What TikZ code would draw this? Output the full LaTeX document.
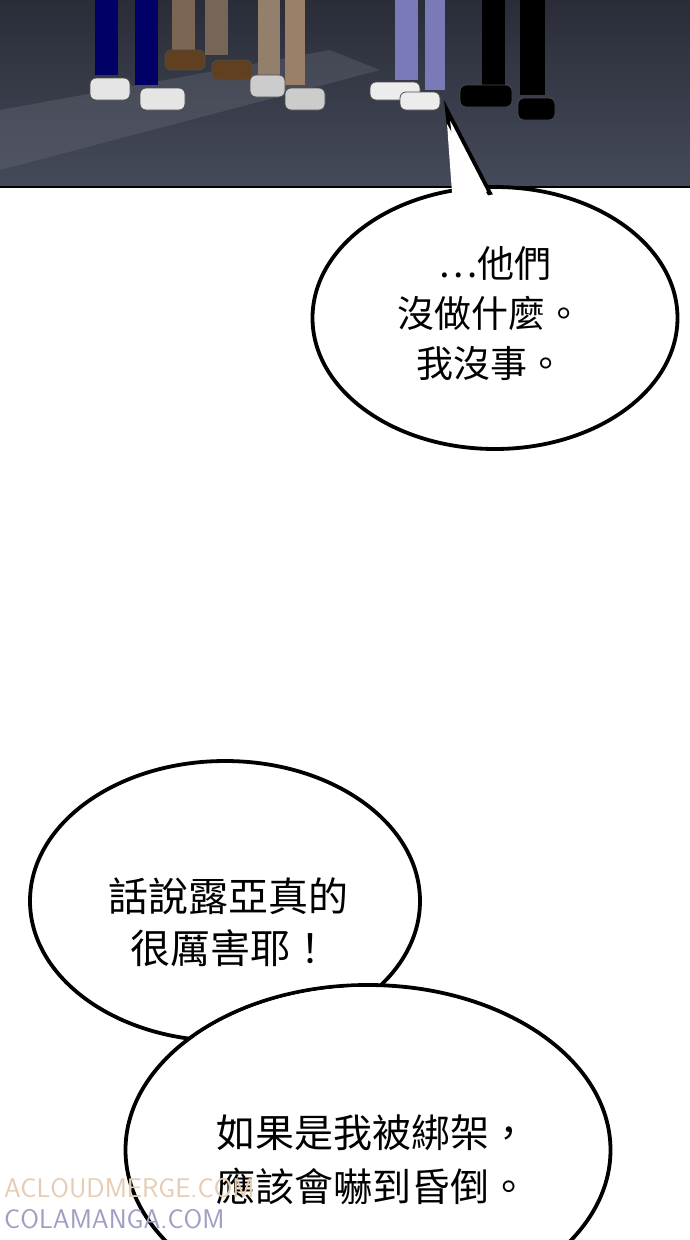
\documentclass[tikz,border=0pt]{standalone}
\usepackage{fontspec}
\usetikzlibrary{shapes.geometric}
\newfontfamily\cjk{Noto Sans CJK TC}
\definecolor{floorA}{HTML}{2A2D38}
\definecolor{floorB}{HTML}{454A5A}
\begin{document}
\begin{tikzpicture}[x=1pt,y=-1pt,
  bub/.style={fill=white,draw=black,line width=3.8pt},
  txt/.style={font=\cjk\fontsize{37}{50}\selectfont,align=center,inner sep=0pt},
  shoe/.style={fill=#1,draw=black!70,line width=0.8pt,rounded corners=6pt}]
\useasboundingbox (0,0) rectangle (690,1240);
\fill[white] (0,0) rectangle (690,1240);
% top panel
\shade[top color=floorA,bottom color=floorB] (0,0) rectangle (690,187);
\fill[floorB!80!white,opacity=0.35] (0,110) -- (330,50) -- (380,70) -- (0,170) -- cycle;
\draw[black,line width=2pt] (0,187) -- (690,187);
% legs
\fill[blue!40!black] (95,0) rectangle (118,75);
\fill[blue!40!black] (135,0) rectangle (158,85);
\fill[brown!40!gray!80!black] (172,0) rectangle (195,50);
\fill[brown!30!gray!80!black] (205,0) rectangle (228,55);
\fill[gray!70!brown] (258,0) rectangle (280,75);
\fill[gray!60!brown] (285,0) rectangle (305,85);
\fill[blue!30!gray!80] (395,0) rectangle (418,80);
\fill[blue!30!gray!80] (425,0) rectangle (445,90);
\fill[black] (482,0) rectangle (505,85);
\fill[black] (520,0) rectangle (545,95);
% shoes
\filldraw[shoe=gray!20] (90,100) rectangle (130,78) ;
\filldraw[shoe=gray!20] (140,110) rectangle (185,88);
\filldraw[shoe=brown!50!black] (165,70) rectangle (205,50);
\filldraw[shoe=brown!50!black] (212,80) rectangle (252,60);
\filldraw[shoe=gray!40] (250,97) rectangle (285,75);
\filldraw[shoe=gray!40] (285,110) rectangle (325,88);
\filldraw[shoe=gray!15] (370,100) rectangle (420,82);
\filldraw[shoe=gray!15] (400,110) rectangle (440,92);
\filldraw[shoe=black] (460,107) rectangle (512,85);
\filldraw[shoe=black] (518,120) rectangle (555,98);
% bubble 1
\node[bub,ellipse,minimum width=365,minimum height=262,inner sep=0pt] (b1) at (495,318) {};
\path[bub] (457,200) -- (447,110) -- (490,193) -- cycle;
\fill[white] (453,206) -- (447,124) -- (494,206) -- cycle;
\node[txt,align=left] (t1) at (490,314) {\hspace*{1.1em}…他們\\沒做什麼。\\\hspace*{0.5em}我沒事。};
% bubble 2
\node[bub,ellipse,minimum width=390,minimum height=280,inner sep=0pt] (b2) at (225,901) {};
\node[bub,ellipse,minimum width=485,minimum height=330,inner sep=0pt] (b3) at (368,1150) {};
\begin{scope}
\clip (225,901) ellipse (193 and 138);
\fill[white] (368,1150) ellipse (240 and 163);
\end{scope}
\node[txt,font=\cjk\fontsize{40}{52}\selectfont,align=left] (t2) at (228,922) {話說露亞真的\\\hspace*{0.55em}很厲害耶！};
\node[txt,font=\cjk\fontsize{39}{54}\selectfont,align=left] (t3) at (372,1160) {如果是我被綁架，\\應該會嚇到昏倒。};
% watermark
\node[font=\sffamily\fontsize{27}{27}\selectfont,text=brown!40!white,anchor=west,inner sep=0pt] (w1) at (4,1188) {ACLOUDMERGE.COM};
\node[font=\sffamily\fontsize{27}{27}\selectfont,text=blue!25!gray!60,anchor=west,inner sep=0pt] (w2) at (4,1219) {COLAMANGA.COM};
\end{tikzpicture}
\end{document}
